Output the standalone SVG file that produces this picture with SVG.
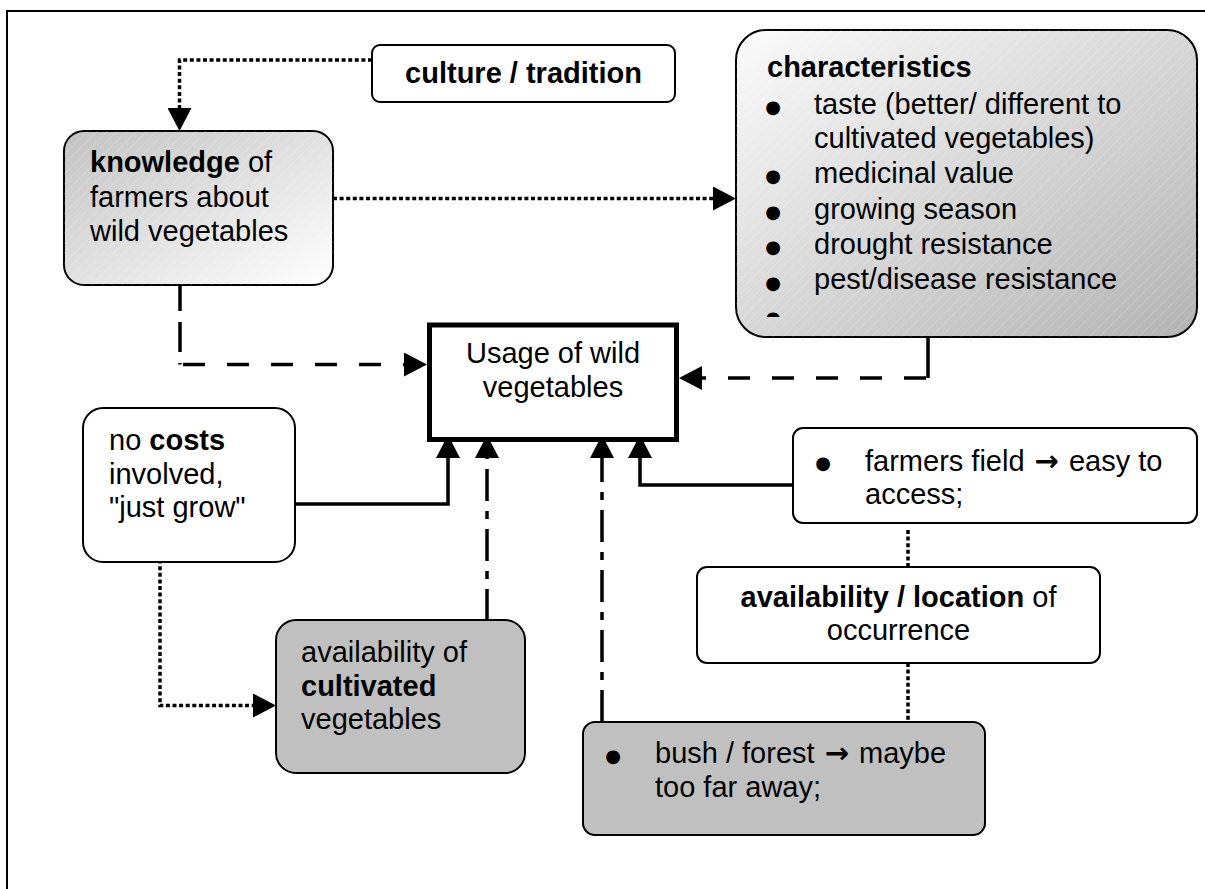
<svg xmlns="http://www.w3.org/2000/svg" width="1205" height="889" viewBox="0 0 1205 889">
  <style>
    text { font-family: "Liberation Sans", Arial, sans-serif; font-size: 29px; fill: #000; }
    .b { font-weight: bold; }
    .mid { text-anchor: middle; }
    .bul { font-family: "DejaVu Sans", sans-serif; font-size: 18px; text-anchor: middle; }
    .arr { font-family: "DejaVu Sans", sans-serif; font-weight: bold; }
    .box { stroke: #000; stroke-width: 2; }
    .white { fill: #fff; }
    .grey { fill: #c0c0c0; }
    .conn { fill: none; stroke: #000; stroke-width: 3.5; }
    .dotted { stroke-dasharray: 4 2.6; }
    .dash-v { stroke-dasharray: 30 11; }
    .dash-h { stroke-dasharray: 22 22; }
    .dashdot { stroke-dasharray: 32 10 8 10; }
  </style>
  <defs>
    <marker id="ah" markerUnits="userSpaceOnUse" markerWidth="23" markerHeight="24" viewBox="0 0 23 24" refX="0" refY="12" orient="auto">
      <path d="M0,0 L23,12 L0,24 Z" fill="#000"/>
    </marker>
    <linearGradient id="gKnow" x1="0" y1="0" x2="1" y2="1">
      <stop offset="0" stop-color="#c2c2c2"/>
      <stop offset="1" stop-color="#ffffff"/>
    </linearGradient>
    <linearGradient id="gChar" x1="0" y1="0" x2="1" y2="1">
      <stop offset="0" stop-color="#fbfbfb"/>
      <stop offset="1" stop-color="#b2b2b2"/>
    </linearGradient>
    <pattern id="hatch" width="7" height="7" patternUnits="userSpaceOnUse" patternTransform="rotate(45)">
      <line x1="0" y1="0" x2="0" y2="7" stroke="#fff" stroke-width="1" stroke-opacity="0.35"/>
    </pattern>
    <clipPath id="charClip">
      <rect x="736" y="30" width="461" height="287"/>
    </clipPath>
  </defs>

  <rect width="1205" height="889" fill="#fff"/>
  <!-- page frame -->
  <path d="M7,889 V11 H1205" fill="none" stroke="#000" stroke-width="2"/>

  <!-- connectors -->
  <g id="connectors">
    <path class="conn dotted" d="M372,60 H179.5 V108" marker-end="url(#ah)"/>
    <path class="conn dotted" d="M333,198.5 H713" marker-end="url(#ah)"/>
    <path class="conn dash-v" d="M180,281 V364.5"/>
    <path class="conn dash-h" d="M183,364.5 H404" marker-end="url(#ah)"/>
    <path class="conn" d="M928,337 V378"/>
    <path class="conn dash-h" d="M926,378 H702" marker-end="url(#ah)"/>
    <path class="conn" d="M295,504 H448 V458" marker-end="url(#ah)"/>
    <path class="conn dashdot" d="M487,621 V458" marker-end="url(#ah)"/>
    <path class="conn dashdot" d="M602,722 V458" marker-end="url(#ah)"/>
    <path class="conn" d="M793,485 H640 V458" marker-end="url(#ah)"/>
    <path class="conn dotted" d="M160,553 V705.5 H253" marker-end="url(#ah)"/>
    <path class="conn dotted" d="M908,530 V567"/>
    <path class="conn dotted" d="M908,663 V722"/>
  </g>

  <g id="culture">
    <rect class="box white" x="372" y="45" width="303" height="57" rx="8"/>
    <text class="b mid" x="523.5" y="83">culture / tradition</text>
  </g>

  <g id="knowledge">
    <rect class="box" x="64" y="131" width="269" height="154" rx="20" fill="url(#gKnow)"/>
    <rect x="64" y="131" width="269" height="154" rx="20" fill="url(#hatch)"/>
    <text x="90" y="172"><tspan class="b">knowledge</tspan> of</text>
    <text x="90" y="206.5">farmers about</text>
    <text x="90" y="240.5">wild vegetables</text>
  </g>

  <g id="characteristics">
    <rect class="box" x="736" y="30" width="461" height="307" rx="30" fill="url(#gChar)"/>
    <rect x="736" y="30" width="461" height="307" rx="30" fill="url(#hatch)"/>
    <text class="b" x="767" y="77">characteristics</text>
    <text class="bul" x="773" y="113">●</text>
    <text x="814" y="114">taste (better/ different to</text>
    <text x="814" y="147.5">cultivated vegetables)</text>
    <text class="bul" x="773" y="181.5">●</text>
    <text x="814" y="183">medicinal value</text>
    <text class="bul" x="773" y="218">●</text>
    <text x="814" y="218.5">growing season</text>
    <text class="bul" x="773" y="253">●</text>
    <text x="814" y="253.5">drought resistance</text>
    <text class="bul" x="773" y="289">●</text>
    <text x="814" y="289">pest/disease resistance</text>
    <text class="bul" x="773" y="324" clip-path="url(#charClip)">●</text>
  </g>

  <g id="usage">
    <rect x="429.5" y="325" width="247" height="114.5" fill="#fff" stroke="#000" stroke-width="5"/>
    <text class="mid" x="553" y="363">Usage of wild</text>
    <text class="mid" x="553" y="397">vegetables</text>
  </g>

  <g id="no-costs">
    <rect class="box white" x="83" y="408" width="212" height="154" rx="20"/>
    <text x="109" y="450">no <tspan class="b">costs</tspan></text>
    <text x="109" y="483.5">involved,</text>
    <text x="109" y="517">"just grow"</text>
  </g>

  <g id="cultivated">
    <rect class="box grey" x="276" y="620" width="249" height="153" rx="20"/>
    <text x="301" y="662">availability of</text>
    <text class="b" x="301" y="696">cultivated</text>
    <text x="301" y="728.5">vegetables</text>
  </g>

  <g id="farmers-field">
    <rect class="box white" x="793" y="428" width="404" height="95" rx="10"/>
    <text class="bul" x="823" y="469">●</text>
    <text x="865" y="471">farmers field <tspan class="arr" dx="2">→</tspan><tspan dx="2"> easy to</tspan></text>
    <text x="865" y="503.5">access;</text>
  </g>

  <g id="availability">
    <rect class="box white" x="697" y="567" width="403" height="96" rx="10"/>
    <text class="mid" x="898.5" y="607"><tspan class="b">availability / location</tspan> of</text>
    <text class="mid" x="898.5" y="640">occurrence</text>
  </g>

  <g id="bush-forest">
    <rect class="box grey" x="583" y="722" width="402" height="113" rx="12"/>
    <text class="bul" x="613" y="762">●</text>
    <text x="655" y="763">bush / forest <tspan class="arr" dx="2">→</tspan><tspan dx="2"> maybe</tspan></text>
    <text x="655" y="797">too far away;</text>
  </g>
</svg>
